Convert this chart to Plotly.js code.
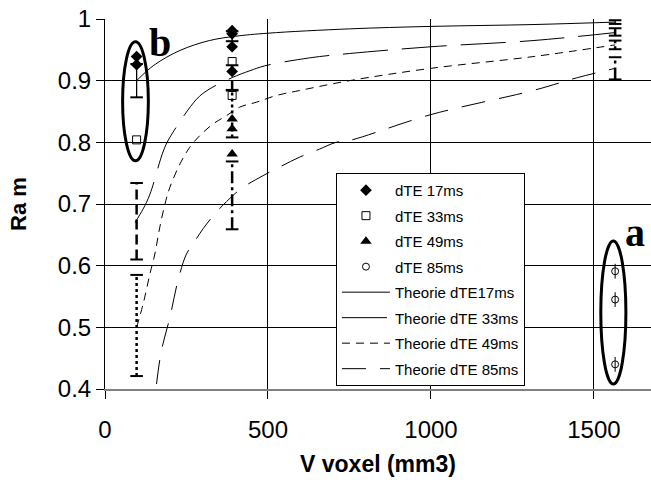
<!DOCTYPE html>
<html><head><meta charset="utf-8">
<script src="https://cdn.plot.ly/plotly-3.0.1.min.js"></script>
<style>html,body{margin:0;padding:0;background:#fff}#chart{width:651px;height:488px}</style>
</head><body><div id="chart"></div>
<script>
// measured points
const x17 = [97, 97, 390, 390, 390, 390];
const y17 = [0.939, 0.926, 0.981, 0.976, 0.955, 0.915];
const x33 = [97, 390, 390];
const y33 = [0.804, 0.931, 0.876];
const x49 = [390, 390, 390];
const y49 = [0.838, 0.822, 0.781];
const x85 = [1565, 1565, 1565];
const y85 = [0.591, 0.545, 0.44];
const err85 = [0.012, 0.012, 0.012];

// theory curves
const thX17 = [97, 150, 230, 320, 400, 500, 750, 1000, 1313, 1565];
const thY17 = [0.9, 0.925, 0.949, 0.965, 0.972, 0.977, 0.984, 0.988, 0.991, 0.995];
const thX33 = [92, 117, 138, 179, 199, 281, 316, 390, 444, 490, 628, 750, 1000, 1313, 1565];
const thY33 = [0.67, 0.692, 0.716, 0.786, 0.808, 0.870, 0.885, 0.905, 0.916, 0.924, 0.937, 0.944, 0.955, 0.965, 0.978];
const thX49 = [97, 117, 138, 153, 168, 184, 199, 230, 260, 291, 332, 372, 413, 464, 526, 597, 750, 1000, 1313, 1565];
const thY49 = [0.5, 0.538, 0.587, 0.619, 0.662, 0.7, 0.727, 0.765, 0.792, 0.811, 0.83, 0.843, 0.857, 0.865, 0.876, 0.884, 0.9, 0.92, 0.939, 0.958];
const thX85 = [158, 173, 199, 224, 250, 276, 301, 342, 393, 423, 485, 536, 597, 658, 709, 750, 1000, 1313, 1450, 1565];
const thY85 = [0.408, 0.462, 0.516, 0.576, 0.619, 0.64, 0.66, 0.687, 0.714, 0.727, 0.746, 0.76, 0.776, 0.789, 0.8, 0.803, 0.845, 0.884, 0.905, 0.92];

// theory error bars
const barX = [97, 390, 1565];
const bar17 = [0.9, 0.972, 0.995], bErr17 = [0.027, 0.008, 0.003];
const bar33 = [0.672, 0.905, 0.979], bErr33 = [0.062, 0.02, 0.006];
const bar49 = [0.503, 0.846, 0.958], bErr49 = [0.082, 0.038, 0.007];
const bar85 = [null, 0.714, 0.92], bErr85 = [null, 0.055, 0.018];

const xTicks = [0, 500, 1000, 1500];
const yTicks = [0.4, 0.5, 0.6, 0.7, 0.8, 0.9, 1];
const yTickText = ['0.4', '0.5', '0.6', '0.7', '0.8', '0.9', '1'];

const names = ['dTE 17ms', 'dTE 33ms', 'dTE 49ms', 'dTE 85ms',
  'Theorie dTE17ms', 'Theorie dTE 33ms', 'Theorie dTE 49ms', 'Theorie dTE 85ms'];

function barTraces(xs, cs, es, dash, w) {
  const lx = [], ly = [], cx = [], cy = [];
  xs.forEach((x, i) => {
    if (cs[i] == null) return;
    lx.push(x, x, null); ly.push(cs[i] - es[i], cs[i] + es[i], null);
    cx.push(x, x); cy.push(cs[i] - es[i], cs[i] + es[i]);
  });
  return [
    {x: lx, y: ly, mode: 'lines', line: {color: 'black', width: w, dash: dash}, showlegend: false, hoverinfo: 'skip', legendgroup: 'z'},
    {x: cx, y: cy, mode: 'markers', marker: {symbol: 'line-ew', size: 9, line: {color: 'black', width: 2}}, showlegend: false, hoverinfo: 'skip', legendgroup: 'z'}
  ];
}

const traces = [
  {x: x17, y: y17, name: names[0], legendgroup: 'g1', mode: 'markers', marker: {symbol: 'diamond', size: 9, color: 'black'}},
  {x: x33, y: y33, name: names[1], legendgroup: 'g2', mode: 'markers', marker: {symbol: 'square-open', size: 8, color: 'black', line: {width: 1}}},
  {x: x49, y: y49, name: names[2], legendgroup: 'g3', mode: 'markers', marker: {symbol: 'triangle-up', size: 10, color: 'black'}},
  {x: x85, y: y85, name: names[3], legendgroup: 'g4', mode: 'markers', marker: {symbol: 'circle-open', size: 7, color: 'black', line: {width: 1}},
   error_y: {type: 'data', array: err85, visible: true, color: 'black', thickness: 1, width: 0}},
  {x: thX17, y: thY17, name: names[4], legendgroup: 'g5', mode: 'lines', line: {color: 'black', width: 1, shape: 'spline'}},
  {x: thX33, y: thY33, name: names[5], legendgroup: 'g6', mode: 'lines', line: {color: 'black', width: 1, shape: 'spline', dash: '45px,14px'}},
  {x: thX49, y: thY49, name: names[6], legendgroup: 'g7', mode: 'lines', line: {color: 'black', width: 1, shape: 'spline', dash: '8px,6px'}},
  {x: thX85, y: thY85, name: names[7], legendgroup: 'g8', mode: 'lines', line: {color: 'black', width: 1, shape: 'spline', dash: '24px,14px'}},
  ...barTraces(barX, bar17, bErr17, 'solid', 1.3),
  ...barTraces(barX, bar33, bErr33, '10px,5px', 2.5),
  ...barTraces(barX, bar49, bErr49, '3px,3px', 2.5),
  ...barTraces(barX, bar85, bErr85, '12px,4px,3px,4px', 2.5)
];

const layout = {
  width: 651, height: 488,
  margin: {l: 105, r: 0, t: 19, b: 99},
  paper_bgcolor: 'white', plot_bgcolor: 'white',
  font: {family: '"Liberation Sans", Arial, sans-serif', color: 'black'},
  showlegend: true,
  legend: {x: 0.423, y: 0.584, xanchor: 'left', yanchor: 'top', bgcolor: 'white', bordercolor: 'black', borderwidth: 1,
    font: {size: 15, family: '"Liberation Sans", Arial, sans-serif'}, tracegroupgap: 3, traceorder: 'grouped', itemwidth: 48},
  xaxis: {range: [0, 1675], tickvals: xTicks, ticks: 'outside', ticklen: 8, tickcolor: 'black',
    showgrid: true, gridcolor: 'black', gridwidth: 1, zeroline: false,
    showline: true, linecolor: '#808080', linewidth: 2,
    tickfont: {size: 24}, ticklabelstandoff: 10,
    title: {text: '<b>V voxel (mm3)</b>', font: {size: 23}, standoff: 14}},
  yaxis: {range: [0.4, 1], tickvals: yTicks, ticktext: yTickText, ticks: 'outside', ticklen: 8, tickcolor: 'black',
    showgrid: true, gridcolor: 'black', gridwidth: 1, zeroline: false,
    showline: true, linecolor: 'black', linewidth: 1,
    tickfont: {size: 24}, title: {text: '<b>Ra m</b>', font: {size: 22}, standoff: 25}},
  shapes: [
    {type: 'circle', xref: 'x', yref: 'y', x0: 54, x1: 133, y0: 0.77, y1: 0.963, line: {color: 'black', width: 3}},
    {type: 'circle', xref: 'x', yref: 'y', x0: 1521, x1: 1598, y0: 0.408, y1: 0.64, line: {color: 'black', width: 3}}
  ],
  annotations: [
    {x: 169, y: 0.962, xref: 'x', yref: 'y', text: '<b>b</b>', showarrow: false, font: {family: '"Liberation Serif", "Times New Roman", serif', size: 40}},
    {x: 1626, y: 0.654, xref: 'x', yref: 'y', text: '<b>a</b>', showarrow: false, font: {family: '"Liberation Serif", "Times New Roman", serif', size: 40}}
  ]
};

Plotly.newPlot('chart', traces, layout, {displayModeBar: false, staticPlot: true});
</script>
</body></html>
